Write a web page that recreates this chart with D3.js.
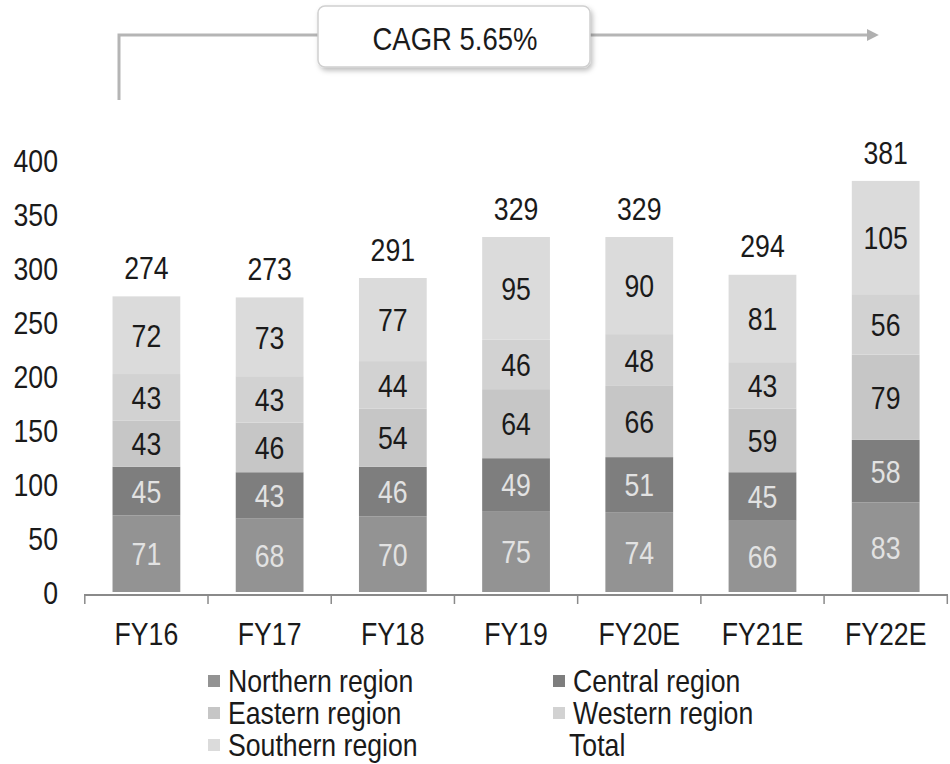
<!DOCTYPE html>
<html>
<head>
<meta charset="utf-8">
<script src="https://cdn.jsdelivr.net/npm/d3@7"></script>
<style>
  html, body { margin: 0; padding: 0; background: #fff; }
  svg { display: block; }
  text { font-family: "Liberation Sans", Arial, sans-serif; }
</style>
</head>
<body>
<svg id="chart" width="950" height="764"></svg>
<script>
// ---- data ----
const categories = ["FY16", "FY17", "FY18", "FY19", "FY20E", "FY21E", "FY22E"];
const northern = [71, 68, 70, 75, 74, 66, 83];
const central  = [45, 43, 46, 49, 51, 45, 58];
const eastern  = [43, 46, 54, 64, 66, 59, 79];
const western  = [43, 43, 44, 46, 48, 43, 56];
const southern = [72, 73, 77, 95, 90, 81, 105];
const totals   = [274, 273, 291, 329, 329, 294, 381];
const seriesNames = ["Northern region", "Central region", "Eastern region", "Western region", "Southern region"];
const yTicks = [0, 50, 100, 150, 200, 250, 300, 350, 400];
const cagrLabel = "CAGR 5.65%";

// ---- styles ----
const colors = ["#939393", "#7e7e7e", "#c6c6c6", "#d2d2d2", "#dbdbdb"];
const labelColors = ["#e2e2e2", "#e2e2e2", "#1a1a1a", "#1a1a1a", "#1a1a1a"];
const FS = 31, SX = 0.86;

const svg = d3.select("#chart");

const x = d3.scaleBand().domain(categories).range([84.8, 947.3])
  .paddingInner(0.45).paddingOuter(0.225);
const y = d3.scaleLinear().domain([0, 400]).range([592, 160.4]);

const rows = categories.map((c, i) => ({
  cat: c,
  "Northern region": northern[i],
  "Central region": central[i],
  "Eastern region": eastern[i],
  "Western region": western[i],
  "Southern region": southern[i],
  total: totals[i]
}));
const stack = d3.stack().keys(seriesNames)(rows);

function label(g, tx, ty, str, anchor, fill, fs) {
  const t = g.append("g").attr("transform", `translate(${tx},${ty}) scale(${SX},1)`);
  t.append("text").attr("text-anchor", anchor || "middle")
    .attr("dominant-baseline", "central")
    .attr("font-size", fs || FS).attr("fill", fill || "#1a1a1a").text(str);
  return t;
}

// bars
const layers = svg.append("g").selectAll("g").data(stack).join("g")
  .attr("fill", (d, i) => colors[i]);
layers.selectAll("rect").data(d => d).join("rect")
  .attr("x", d => x(d.data.cat))
  .attr("width", x.bandwidth())
  .attr("y", d => y(d[1]))
  .attr("height", d => y(d[0]) - y(d[1]));

// segment labels
const lbl = svg.append("g");
stack.forEach((s, si) => {
  s.forEach(d => {
    label(lbl, x(d.data.cat) + x.bandwidth() / 2, y((d[0] + d[1]) / 2) + 1,
      d[1] - d[0], "middle", labelColors[si]);
  });
});
// totals
rows.forEach(r => {
  label(lbl, x(r.cat) + x.bandwidth() / 2, y(r.total) - 28, r.total, "middle", "#1a1a1a");
});

// x axis
const axisG = svg.append("g");
axisG.append("line").attr("x1", 84).attr("x2", 948).attr("y1", 595).attr("y2", 595)
  .attr("stroke", "#8a8a8a").attr("stroke-width", 2);
const step = x.step();
const x0 = x.range()[0];
d3.range(categories.length + 1).forEach(i => {
  const xx = x0 + i * step;
  axisG.append("line").attr("x1", xx).attr("x2", xx).attr("y1", 595).attr("y2", 604)
    .attr("stroke", "#8a8a8a").attr("stroke-width", 1.5);
});
categories.forEach(c => {
  label(axisG, x(c) + x.bandwidth() / 2, 634, c, "middle", "#1a1a1a");
});

// y tick labels
yTicks.forEach(v => {
  label(axisG, 58, y(v) + 1, v, "end", "#1a1a1a");
});

// CAGR annotation
const defs = svg.append("defs");
const f = defs.append("filter").attr("id", "sh").attr("x", "-10%").attr("y", "-20%")
  .attr("width", "130%").attr("height", "160%");
f.append("feDropShadow").attr("dx", 2).attr("dy", 3).attr("stdDeviation", 2.5)
  .attr("flood-color", "#000").attr("flood-opacity", 0.25);
defs.append("marker").attr("id", "arr").attr("viewBox", "0 0 10 10")
  .attr("refX", 1).attr("refY", 5).attr("markerWidth", 4).attr("markerHeight", 4)
  .attr("orient", "auto")
  .append("path").attr("d", "M0,0 L10,5 L0,10 Z").attr("fill", "#b0b0b0");

const ann = svg.append("g");
ann.append("path").attr("d", "M119,100 L119,35 L318,35")
  .attr("fill", "none").attr("stroke", "#b5b5b5").attr("stroke-width", 3);
ann.append("line").attr("x1", 590).attr("x2", 868).attr("y1", 35).attr("y2", 35)
  .attr("stroke", "#b5b5b5").attr("stroke-width", 3).attr("marker-end", "url(#arr)");
ann.append("rect").attr("x", 318).attr("y", 6).attr("width", 272).attr("height", 61)
  .attr("rx", 7).attr("fill", "#fff").attr("stroke", "#d0d0d0").attr("stroke-width", 1.5)
  .attr("filter", "url(#sh)");
label(ann, 455, 39, cagrLabel, "middle", "#1a1a1a", 32);

// legend
const leg = svg.append("g");
const legItems = [
  { name: "Northern region", col: 0, row: 0, color: colors[0] },
  { name: "Central region", col: 1, row: 0, color: colors[1] },
  { name: "Eastern region", col: 0, row: 1, color: colors[2] },
  { name: "Western region", col: 1, row: 1, color: colors[3] },
  { name: "Southern region", col: 0, row: 2, color: colors[4] },
  { name: "Total", col: 1, row: 2, color: null }
];
legItems.forEach(it => {
  const tx = it.col === 0 ? 228 : 573;
  const ty = 681 + it.row * 32;
  if (it.color) {
    leg.append("rect").attr("x", tx - 20).attr("y", ty - 6).attr("width", 12).attr("height", 12)
      .attr("fill", it.color);
  }
  label(leg, it.name === "Total" ? tx - 4 : tx, ty, it.name, "start", "#1a1a1a");
});
</script>
</body>
</html>
